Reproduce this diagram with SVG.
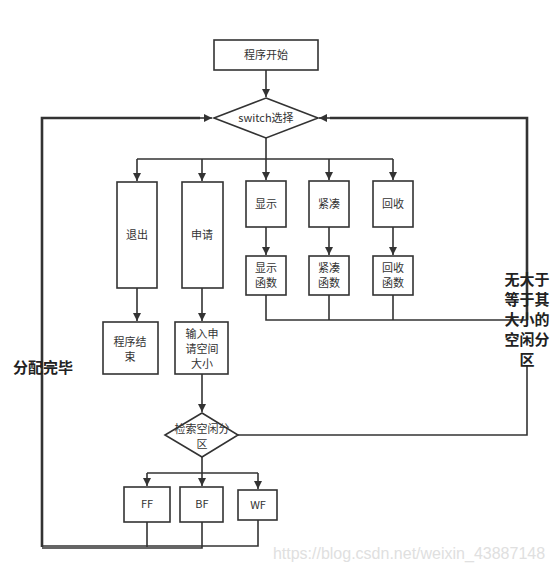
<svg xmlns="http://www.w3.org/2000/svg" width="554" height="574" viewBox="0 0 554 574">
<defs>
<marker id="ah" viewBox="0 0 10 10" refX="10" refY="5" markerWidth="8" markerHeight="8" markerUnits="userSpaceOnUse" orient="auto">
<path d="M0,0 L10,5 L0,10 z" fill="#333"/>
</marker>
<style>
.box{fill:#fff;stroke:#333;stroke-width:1.6}
.t{font-family:"Noto Sans CJK SC","Liberation Sans",sans-serif;font-size:11px;fill:#333;text-anchor:middle}
.b{font-family:"Noto Sans CJK SC","Liberation Sans",sans-serif;font-size:15px;font-weight:bold;fill:#222;text-anchor:middle}
.c{fill:none;stroke:#333;stroke-width:1.6}
.ca{fill:none;stroke:#333;stroke-width:1.6;marker-end:url(#ah)}
.thick{fill:none;stroke:#333;stroke-width:2.6}
</style>
</defs>
<rect width="554" height="574" fill="#fff"/>
<g id="connectors">
<path class="ca" d="M266,70 V97"/>
<path class="c" d="M266,138 V159 M137,159 H393"/>
<path class="ca" d="M137,159 V181"/>
<path class="ca" d="M202,159 V181"/>
<path class="ca" d="M266,159 V180"/>
<path class="ca" d="M329,159 V180"/>
<path class="ca" d="M393,159 V180"/>
<path class="ca" d="M266,227 V255"/>
<path class="ca" d="M329,227 V255"/>
<path class="ca" d="M393,227 V255"/>
<path class="ca" d="M137,288 V321"/>
<path class="ca" d="M202,288 V321"/>
<path class="ca" d="M202,374 V412"/>
<path class="c" d="M266,295 V320 H527 M329,295 V320 M393,295 V320"/>
<path class="thick" d="M527,320 V118 H330"/>
<path class="ca" d="M331,118 H319"/>
<path class="c" d="M238,435 H527 V366"/>
<path class="c" d="M202,457 V473 M147,473 H258"/>
<path class="ca" d="M147,473 V486"/>
<path class="ca" d="M202,473 V486"/>
<path class="ca" d="M258,473 V489"/>
<path class="c" d="M147,522 V547 M202,522 V548 H42"/>
<path class="c" d="M258,520 V546 H42"/>
<path class="thick" d="M42,547 V118 H200"/>
<path class="ca" d="M199,118 H212"/>
</g>
<g id="start"><rect class="box" x="214" y="40" width="104" height="30"/><text class="t" x="266" y="59">程序开始</text></g>
<g id="switch"><polygon class="box" points="266,98 318,118 266,138 214,118"/><text class="t" x="266" y="122">switch选择</text></g>
<g id="exit"><rect class="box" x="117" y="182" width="40" height="106"/><text class="t" x="137" y="239">退出</text></g>
<g id="apply"><rect class="box" x="182" y="182" width="41" height="106"/><text class="t" x="202" y="239">申请</text></g>
<g id="show"><rect class="box" x="246" y="181" width="40" height="46"/><text class="t" x="266" y="208">显示</text></g>
<g id="compact"><rect class="box" x="309" y="181" width="40" height="46"/><text class="t" x="329" y="208">紧凑</text></g>
<g id="recycle"><rect class="box" x="373" y="181" width="40" height="46"/><text class="t" x="393" y="208">回收</text></g>
<g id="showf"><rect class="box" x="246" y="256" width="40" height="39"/><text class="t" x="266" y="272">显示</text><text class="t" x="266" y="287">函数</text></g>
<g id="compactf"><rect class="box" x="309" y="256" width="40" height="39"/><text class="t" x="329" y="272">紧凑</text><text class="t" x="329" y="287">函数</text></g>
<g id="recyclef"><rect class="box" x="373" y="256" width="40" height="39"/><text class="t" x="393" y="272">回收</text><text class="t" x="393" y="287">函数</text></g>
<g id="end"><rect class="box" x="103" y="322" width="55" height="52"/><text class="t" x="130" y="346">程序结</text><text class="t" x="130" y="361">束</text></g>
<g id="input"><rect class="box" x="175" y="322" width="53" height="52"/><text class="t" x="202" y="338">输入申</text><text class="t" x="202" y="353">请空间</text><text class="t" x="202" y="368">大小</text></g>
<g id="search"><polygon class="box" points="202,413 238,435 202,457 165,435"/><text class="t" x="202" y="433">检索空闲分</text><text class="t" x="202" y="448">区</text></g>
<g id="ff"><rect class="box" x="124" y="487" width="46" height="35"/><text class="t" x="147" y="508">FF</text></g>
<g id="bf"><rect class="box" x="180" y="487" width="43" height="35"/><text class="t" x="202" y="508">BF</text></g>
<g id="wf"><rect class="box" x="238" y="490" width="39" height="30"/><text class="t" x="258" y="509">WF</text></g>
<g id="label-done"><text class="b" x="43" y="373">分配完毕</text></g>
<g id="label-none"><text class="b" x="527" y="285">无大于</text><text class="b" x="527" y="305">等于其</text><text class="b" x="527" y="325">大小的</text><text class="b" x="527" y="345">空闲分</text><text class="b" x="527" y="365">区</text></g>
<text x="409" y="559" font-family="Liberation Sans, sans-serif" font-size="16" fill="#e0e0e0" text-anchor="middle">https://blog.csdn.net/weixin_43887148</text>
</svg>
